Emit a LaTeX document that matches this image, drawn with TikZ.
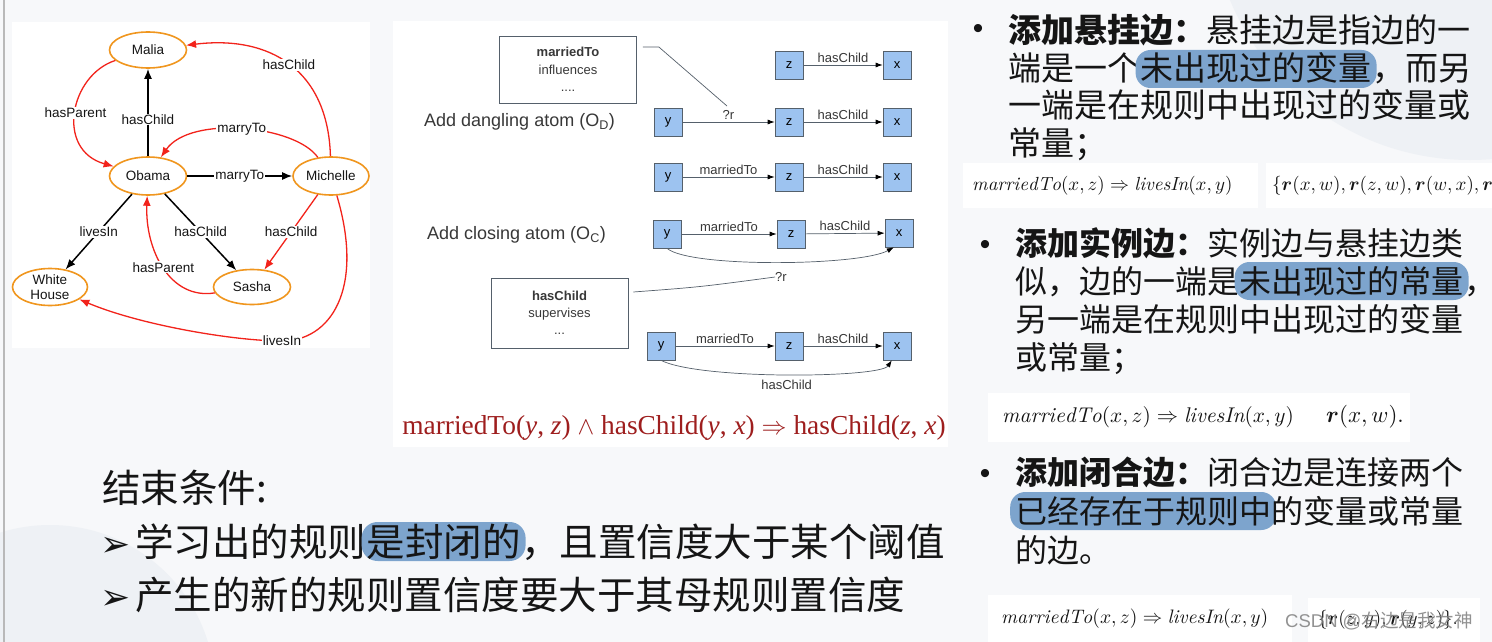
\documentclass[tikz,border=0pt]{standalone}
\usepackage{amsmath}
\usepackage{graphicx}
\usepackage{fontspec}
\newfontfamily\cjk{Noto Sans CJK SC}
\newfontfamily\lsans{Liberation Sans}
\newfontfamily\lserif{Liberation Serif}
\newfontfamily\djv{DejaVu Sans}
\usetikzlibrary{arrows.meta,shapes.geometric,calc}
\definecolor{bg}{HTML}{F7F8FA}
\definecolor{circ}{HTML}{EEF1F5}
\definecolor{orng}{HTML}{F0961E}
\definecolor{redc}{HTML}{F2231B}
\definecolor{boxblue}{HTML}{9DC3F0}
\definecolor{boxline}{HTML}{55606B}
\definecolor{hlc}{HTML}{7DA4CD}
\definecolor{redf}{HTML}{9E1E1E}
\definecolor{txt}{HTML}{151515}
\newcommand{\mfs}[2][1.9]{\scalebox{#1}{$#2$}}
\begin{document}
\begin{tikzpicture}[x=1pt,y=-1pt,
  gnode/.style={ellipse, draw=orng, line width=1.6pt, fill=white, inner sep=0pt,
    minimum width=77pt, minimum height=36pt, align=center, text=txt,
    font=\lsans\fontsize{13.5}{15.5}\selectfont},
  glbl/.style={fill=white, inner sep=1pt, text=txt, font=\lsans\fontsize{13.5}{16}\selectfont},
  bedge/.style={line width=1.5pt, -{Latex[length=10pt,width=8pt]}},
  redge/.style={line width=1.3pt, color=redc, -{Latex[length=10pt,width=8pt]}},
  vbox/.style={draw=boxline, line width=0.7pt, fill=boxblue, minimum width=28pt, minimum height=28pt,
    inner sep=0pt, font=\lsans\fontsize{13}{15}\selectfont},
  varr/.style={line width=0.7pt, draw=boxline, -{Latex[length=7pt,width=5pt,color=black]}},
  elbl/.style={midway, above=2.5pt, inner sep=0pt, text=txt!85, font=\lsans\fontsize{13}{15}\selectfont},
  plbl/.style={inner sep=0pt, text=txt!85, font=\lsans\fontsize{13}{15}\selectfont},
  thinl/.style={line width=0.7pt, draw=boxline},
  cjkA/.style={inner sep=0pt, anchor=base west, text=txt, font=\cjk\fontsize{33}{38}\selectfont},
  cjkB/.style={inner sep=0pt, anchor=base west, text=txt, font=\cjk\fontsize{32}{38}\selectfont},
  cjkC/.style={inner sep=0pt, anchor=base west, text=txt, font=\cjk\fontsize{38.5}{46}\selectfont},
  hlA/.style={cjkA, fill=hlc, rounded corners=15pt, inner xsep=5pt, inner ysep=0pt, text height=30.5pt, text depth=7.5pt},
  hlB/.style={cjkB, fill=hlc, rounded corners=15pt, inner xsep=5pt, inner ysep=0pt, text height=31pt, text depth=7pt},
  hlC/.style={cjkC, fill=hlc, rounded corners=16pt, inner xsep=5pt, inner ysep=0pt, text height=34pt, text depth=5pt},
  bul/.style={inner sep=0pt, anchor=base, text=txt, font=\lsans\fontsize{30}{30}\selectfont},
  arw/.style={inner sep=0pt, anchor=base west, text=txt, font=\djv\fontsize{36}{36}\selectfont},
  mathf/.style={inner sep=0pt, anchor=west, text=txt, font=\fontsize{10}{12}\selectfont},
]
\useasboundingbox (0,0) rectangle (1492,642);
\fill[bg] (0,0) rectangle (1492,642);
\begin{scope}
  \clip (0,0) rectangle (1492,642);
  \fill[circ] (50,690) circle[radius=165pt];
  \fill[circ] (1470,-100) circle[radius=260pt];
\end{scope}
\fill[gray!55] (2.5,0) rectangle (4.5,642);

% ---------------- panel 1: graph ----------------
\fill[white] (12,22) rectangle (370,348);
\node[gnode] (Malia) at (148,50) {Malia};
\node[gnode, minimum height=38pt] (Obama) at (148,176) {Obama};
\node[gnode, minimum width=76pt, minimum height=38pt] (Michelle) at (331,176) {Michelle};
\node[gnode, minimum width=75pt, minimum height=37pt] (WH) at (50,287) {White\\House};
\node[gnode, minimum height=35pt] (Sasha) at (252,287) {Sasha};

\draw[bedge] (Obama) -- node[glbl, pos=0.42]{hasChild} (Malia);
\draw[redge] (Malia) .. controls (70,75) and (55,150) .. node[glbl, pos=0.5]{hasParent} (Obama);
\draw[redge] (Michelle) .. controls (328,70) and (270,35) .. node[glbl, pos=0.5]{hasChild} (Malia);
\draw[redge] (Michelle) .. controls (295,125) and (190,115) .. node[glbl, pos=0.5]{marryTo} (Obama);
\draw[bedge] (Obama) -- node[glbl, midway]{marryTo} (Michelle);
\draw[bedge] (Obama) -- node[glbl, midway]{livesIn} (WH);
\draw[bedge] (Obama) -- node[glbl, midway]{hasChild} (Sasha);
\draw[redge] (Sasha) .. controls (170,300) and (145,250) .. node[glbl, pos=0.5]{hasParent} (Obama);
\draw[redge] (Michelle) -- node[glbl, midway]{hasChild} (Sasha);
\draw[redge] (Michelle) .. controls (365,290) and (330,341) .. (282,341) node[glbl]{livesIn}
   .. controls (234,341) and (140,325) .. (WH);

% ---------------- panel 2: operators ----------------
\fill[white] (393,21) rectangle (948,447);

\node[draw=boxline, line width=0.7pt, minimum width=137pt, minimum height=67pt, align=center,
  text=txt!85, font=\lsans\fontsize{13}{17.5}\selectfont] (box1) at (568,69.5)
  {\textbf{marriedTo}\\influences\\....};
\node[draw=boxline, line width=0.7pt, minimum width=137pt, minimum height=70pt, align=center,
  text=txt!85, font=\lsans\fontsize{13}{17}\selectfont] (box2) at (559.5,313)
  {\textbf{hasChild}\\supervises\\...};

\node[anchor=west, inner sep=0pt, text=txt!85, font=\lsans\fontsize{18}{20}\selectfont] (lblD) at (424,122)
  {Add dangling atom (O\textsubscript{D})};
\node[anchor=west, inner sep=0pt, text=txt!85, font=\lsans\fontsize{18}{20}\selectfont] (lblC) at (427,235)
  {Add closing atom (O\textsubscript{C})};

% row 1
\node[vbox] (z1) at (789,65) {z};
\node[vbox] (x1) at (897,65) {x};
\draw[varr] (z1) -- node[elbl]{hasChild} (x1);
% row 2
\node[vbox] (y2) at (668,122) {y};
\node[vbox] (z2) at (789,122) {z};
\node[vbox] (x2) at (897,122) {x};
\draw[varr] (y2) -- node[elbl]{?r} (z2);
\draw[varr] (z2) -- node[elbl]{hasChild} (x2);
\coordinate (qrA) at (727,106);
\draw[thinl] ($(box1.east)+(6,-22.5)$) -- ++(16,0) -- (qrA);
% row 3
\node[vbox] (y3) at (668,177) {y};
\node[vbox] (z3) at (789,177) {z};
\node[vbox] (x3) at (897,177) {x};
\draw[varr] (y3) -- node[elbl]{marriedTo} (z3);
\draw[varr] (z3) -- node[elbl]{hasChild} (x3);
% row 4
\node[vbox] (y4) at (667,234) {y};
\node[vbox] (z4) at (791,234) {z};
\node[vbox] (x4) at (899,233) {x};
\draw[varr] (y4) -- node[elbl]{marriedTo} (z4);
\draw[varr] (z4) -- node[elbl]{hasChild} (x4);
\draw[varr] (y4.south) .. controls (690,268) and (860,266) .. (x4.250);
\node[plbl] (qr2) at (781,277) {?r};
\draw[thinl] ($(box2.east)+(5,-21)$) .. controls (700,287) .. (qr2.west);
% row 5
\node[vbox] (y5) at (661,346) {y};
\node[vbox] (z5) at (789,346) {z};
\node[vbox] (x5) at (897,346) {x};
\draw[varr] (y5) -- node[elbl]{marriedTo} (z5);
\draw[varr] (z5) -- node[elbl]{hasChild} (x5);
\draw[varr] (y5.south) .. controls (700,380) and (880,378) .. node[pos=0.5, below=5pt, plbl]{hasChild} (x5.250);

\node[text=redf, inner sep=0pt, font=\lserif\fontsize{27.4}{31}\selectfont] (rule) at (674,428)
  {marriedTo(\textit{y}, \textit{z}) {\fontsize{10}{12}\selectfont\scalebox{2.5}{$\wedge$}} hasChild(\textit{y}, \textit{x}) {\fontsize{10}{12}\selectfont\scalebox{2.5}{$\Rightarrow$}} hasChild(\textit{z}, \textit{x})};

% ---------------- right column ----------------
% bullet 1
\node[bul] (d1) at (978,38.5) {•};
\node[cjkA] (a11) at (1008,42.5) {\bfseries 添加悬挂边：};
\node[cjkA] (a12) at (a11.base east) {悬挂边是指边的一};
\node[cjkA] (a21) at (1008,80.5) {端是一个};
\node[hlA] (a22) at ([xshift=-5pt]a21.base east) {未出现过的变量};
\node[cjkA] (a23) at ([xshift=-5pt]a22.base east) {，而另};
\node[cjkA] (a3) at (1008,117.5) {一端是在规则中出现过的变量或};
\node[cjkA] (a4) at (1008,155) {常量；};

\fill[white] (963,163) rectangle (1258,208);
\node[mathf] (f1) at (972,186) {\mfs{\mathit{marriedTo}(x,z) \Rightarrow \mathit{livesIn}(x,y)}};
\fill[white] (1266,163) rectangle (1500,208);
\node[mathf] (f1b) at (1272,186) {\mfs{\{\boldsymbol{r}(x,w), \boldsymbol{r}(z,w), \boldsymbol{r}(w,x), \boldsymbol{r}(}};

% bullet 2
\node[bul] (d2) at (985,254.5) {•};
\node[cjkB] (b11) at (1015,255) {\bfseries 添加实例边：};
\node[cjkB] (b12) at (b11.base east) {实例边与悬挂边类};
\node[cjkB] (b21) at (1015,293) {似，边的一端是};
\node[hlB] (b22) at ([xshift=-5pt]b21.base east) {未出现过的常量};
\node[cjkB] (b23) at ([xshift=-5pt]b22.base east) {，};
\node[cjkB] (b3) at (1015,331) {另一端是在规则中出现过的变量};
\node[cjkB] (b4) at (1015,369) {或常量；};

\fill[white] (988,393) rectangle (1320,442);
\node[mathf] (f2) at (1002,417) {\mfs[2.13]{\mathit{marriedTo}(x,z) \Rightarrow \mathit{livesIn}(x,y)}};
\fill[white] (1320,393) rectangle (1410,442);
\node[mathf] (f2b) at (1326,417) {\mfs[2.3]{\boldsymbol{r}(x,w).}};

% bullet 3
\node[bul] (d3) at (985,483.5) {•};
\node[cjkB] (c11) at (1015,484) {\bfseries 添加闭合边：};
\node[cjkB] (c12) at (c11.base east) {闭合边是连接两个};
\node[hlB] (c21) at (1010,523) {已经存在于规则中};
\node[cjkB] (c22) at ([xshift=-5pt]c21.base east) {的变量或常量};
\node[cjkB] (c3) at (1015,562) {的边。};

\fill[white] (988,595) rectangle (1292,642);
\node[mathf] (f3) at (1001,619) {\mfs[1.95]{\mathit{marriedTo}(x,z) \Rightarrow \mathit{livesIn}(x,y)}};
\fill[white] (1308,598) rectangle (1480,642);
\node[mathf] (f3b) at (1318,620) {\mfs{\{\boldsymbol{r}(z,y), \boldsymbol{r}(y,z)\}.}};
\node[anchor=west, inner sep=0pt, text=gray, opacity=0.85, font=\lsans\fontsize{18.5}{20}\selectfont] (wm) at (1285,621)
  {CSDN @{\cjk 右边是我女神}};

% ---------------- bottom left ----------------
\node[cjkC] (t0) at (102,502) {结束条件:};
\node[arw] (ar1) at (100,556) {➢};
\node[cjkC] (t11) at (135,556) {学习出的规则};
\node[hlC] (t12) at ([xshift=-5pt]t11.base east) {是封闭的};
\node[cjkC] (t13) at ([xshift=-5pt]t12.base east) {，且置信度大于某个阈值};
\node[arw] (ar2) at (100,609) {➢};
\node[cjkC] (t2) at (135,609) {产生的新的规则置信度要大于其母规则置信度};
\end{tikzpicture}
\end{document}
